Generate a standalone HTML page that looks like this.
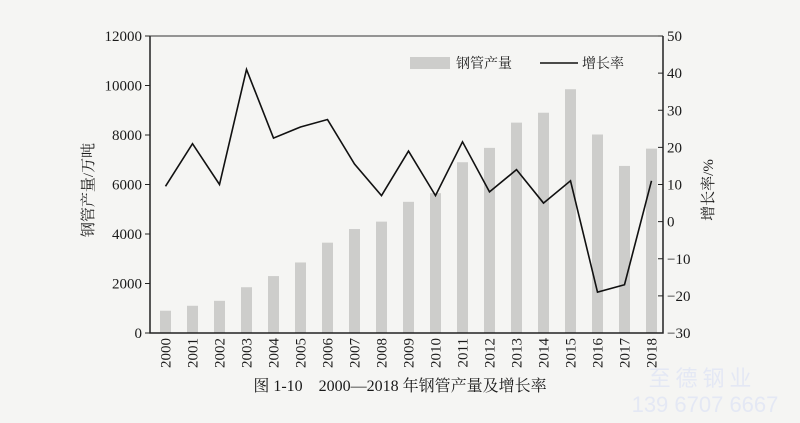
<!DOCTYPE html>
<html><head><meta charset="utf-8"><style>
html,body{margin:0;padding:0;background:#f5f5f3;}
svg{display:block;}
text{font-family:"Liberation Serif","Noto Serif CJK SC",serif;fill:#1a1a1a;}
</style></head><body>
<svg id="chart" width="800" height="423" viewBox="0 0 800 423" xmlns="http://www.w3.org/2000/svg">
<rect width="800" height="423" fill="#f5f5f3"/>
<g id="bars" fill="#cdcdcb"></g>
<polyline points="150,36 150,333 663,333 663,36" fill="none" stroke="#222" stroke-width="1.5"/>
<line x1="150" y1="36" x2="663" y2="36" stroke="#333" stroke-width="1"/>
<g id="ticks" stroke="#222" stroke-width="1"></g>
<g id="labels" font-size="15"></g>
<polyline id="line" fill="none" stroke="#111" stroke-width="1.6"/>
<rect x="410" y="57" width="40" height="12" fill="#cdcdcb"/>
<text x="456" y="68" font-size="14">钢管产量</text>
<line x1="540" y1="63" x2="578" y2="63" stroke="#111" stroke-width="1.6"/>
<text x="582" y="68" font-size="14">增长率</text>
<text transform="translate(93,190) rotate(-90)" text-anchor="middle" font-size="15">钢管产量/万吨</text>
<text transform="translate(713,190) rotate(-90)" text-anchor="middle" font-size="15">增长率/%</text>
<text x="400" y="391" text-anchor="middle" font-size="16">图 1-10　2000—2018 年钢管产量及增长率</text>
<text x="700" y="386" text-anchor="middle" font-size="22" style="fill:#e4e8f4;font-family:'Noto Sans CJK SC',sans-serif">至 德 钢 业</text>
<text x="705" y="412" text-anchor="middle" font-size="22" style="fill:#e4e8f4;font-family:'Liberation Sans',sans-serif">139 6707 6667</text>
</svg>
<script>
(function(){
var ns="http://www.w3.org/2000/svg";
var vals=[900,1100,1300,1850,2300,2850,3650,4200,4500,5300,5650,6900,7480,8500,8900,9850,8020,6750,7450];
var gr=[9.5,21,10,41,22.5,25.5,27.5,15.5,7,19,7,21.5,8,14,5,11,-19,-17,11];
var T=36,B=333,H=B-T;
function yl(v){return B-v/12000*H;}
function yr(v){return T+(50-v)/80*H;}
function cx(i){return 165.5+i*27.0;}
var bars=document.getElementById('bars'),ticks=document.getElementById('ticks'),labels=document.getElementById('labels');
function el(t,a,p,txt){var e=document.createElementNS(ns,t);for(var k in a)e.setAttribute(k,a[k]);if(txt!==undefined)e.textContent=txt;p.appendChild(e);return e;}
vals.forEach(function(v,i){el('rect',{x:cx(i)-5.5,y:yl(v),width:11,height:B-yl(v)},bars);
 el('text',{transform:'translate('+(cx(i)+5)+',338) rotate(-90)','text-anchor':'end'},labels,String(2000+i));});
for(var v=0;v<=12000;v+=2000){var y=yl(v);el('line',{x1:145,y1:y,x2:150,y2:y},ticks);el('text',{x:142,y:y+5,'text-anchor':'end'},labels,String(v));}
for(var w=-30;w<=50;w+=10){var y2=yr(w);el('line',{x1:658,y1:y2,x2:663,y2:y2},ticks);el('text',{x:667,y:y2+5},labels,w<0?'\u2212'+(-w):String(w));}
document.getElementById('line').setAttribute('points',gr.map(function(g,i){return cx(i)+','+yr(g);}).join(' '));
})();
</script>
</body></html>
